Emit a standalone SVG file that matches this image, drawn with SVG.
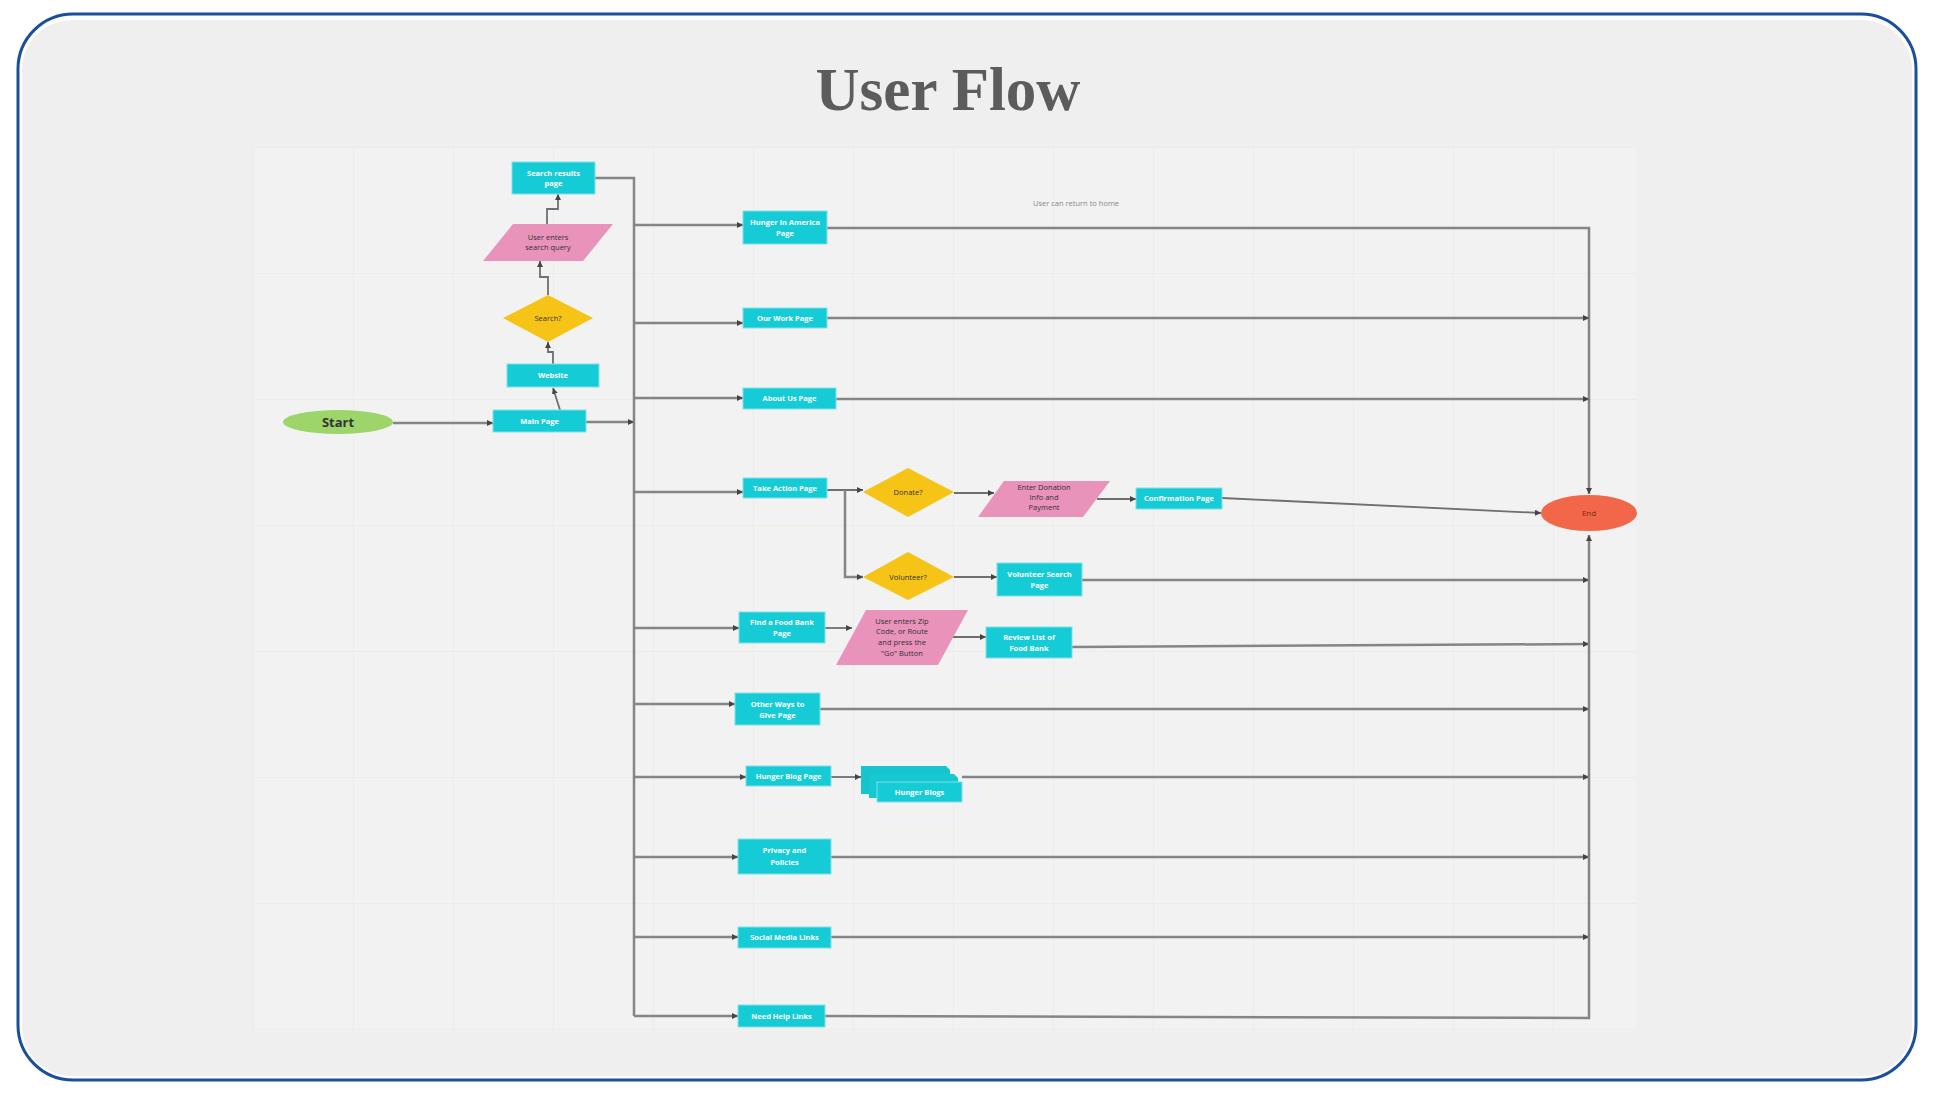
<svg xmlns="http://www.w3.org/2000/svg" width="1936" height="1105" viewBox="0 0 1936 1105">
<defs>
<pattern id="grid" x="253" y="147" width="100" height="126" patternUnits="userSpaceOnUse">
<path d="M0,0 V126 M0,0 H100" fill="none" stroke="#e6e6e6" stroke-width="1"/>
</pattern>
<marker id="arr" viewBox="0 0 6 6" refX="6" refY="3" markerWidth="6" markerHeight="6" markerUnits="userSpaceOnUse" orient="auto">
<path d="M0,0 L6,3 L0,6 Z" fill="#444"/>
</marker>
<style>
.box{fill:#15ccd6;stroke:#7fe0e5;stroke-width:1}
.pink{fill:#e992ba}
.yel{fill:#f6c417}
.wt{font-family:"Open Sans","Liberation Sans",sans-serif;font-size:7.5px;font-weight:bold;fill:#ffffff;text-anchor:middle}
.dt{font-family:"Open Sans","Liberation Sans",sans-serif;font-size:7.5px;fill:#333333;text-anchor:middle}
.ln{fill:none;stroke:#858585;stroke-width:2.5}
.lt{fill:none;stroke:#6f6f6f;stroke-width:1.8}
</style>
</defs>
<rect x="0" y="0" width="1936" height="1105" fill="#ffffff"/>
<rect x="18" y="14" width="1898" height="1066" rx="55" fill="#ffffff" stroke="#1b4f9c" stroke-width="3"/>
<rect x="22" y="20" width="1890" height="1056" rx="50" fill="#efefef"/>
<text x="948" y="110" font-family="'Liberation Serif',serif" font-size="61" font-weight="bold" fill="#5c5c5c" text-anchor="middle">User Flow</text>
<rect x="253" y="147" width="1383" height="884" fill="#f2f2f2"/>
<rect x="253" y="147" width="1383" height="884" fill="url(#grid)"/>
<text x="1076" y="206" font-family="'Open Sans','Liberation Sans',sans-serif" font-size="7.5" fill="#888" text-anchor="middle">User can return to home</text>

<g id="connectors">
<path class="ln" d="M393,423 H493" marker-end="url(#arr)"/>
<path class="ln" d="M586,422 H634" marker-end="url(#arr)"/>
<path class="lt" d="M560,410 L553,388" marker-end="url(#arr)"/>
<path class="lt" d="M553,364 V352 H548 V342" marker-end="url(#arr)"/>
<path class="lt" d="M548,295 V277 H540 V261" marker-end="url(#arr)"/>
<path class="lt" d="M547,224 V209 H558 V194" marker-end="url(#arr)"/>
<path class="ln" d="M595,178 H634 V1016"/>
<path class="ln" d="M634,225 H743" marker-end="url(#arr)"/>
<path class="ln" d="M634,323 H743" marker-end="url(#arr)"/>
<path class="ln" d="M634,398 H743" marker-end="url(#arr)"/>
<path class="ln" d="M634,492 H743" marker-end="url(#arr)"/>
<path class="ln" d="M634,628 H739" marker-end="url(#arr)"/>
<path class="ln" d="M634,704 H735" marker-end="url(#arr)"/>
<path class="ln" d="M634,777 H746" marker-end="url(#arr)"/>
<path class="ln" d="M634,857 H738" marker-end="url(#arr)"/>
<path class="ln" d="M634,937 H738" marker-end="url(#arr)"/>
<path class="ln" d="M634,1016 H738" marker-end="url(#arr)"/>
<path class="ln" d="M827,228 H1589 V494" marker-end="url(#arr)"/>
<path class="ln" d="M827,318 H1589" marker-end="url(#arr)"/>
<path class="ln" d="M836,399 H1589" marker-end="url(#arr)"/>
<path class="lt" d="M827,490 H863" marker-end="url(#arr)"/>
<path class="ln" d="M845,490 V577 H863" marker-end="url(#arr)"/>
<path class="lt" d="M954,493 H994" marker-end="url(#arr)"/>
<path class="lt" d="M1097,499 H1136" marker-end="url(#arr)"/>
<path class="lt" d="M1222,498 L1541,513" marker-end="url(#arr)"/>
<path class="lt" d="M954,577 H997" marker-end="url(#arr)"/>
<path class="ln" d="M1082,580 H1589" marker-end="url(#arr)"/>
<path class="lt" d="M825,628 H852" marker-end="url(#arr)"/>
<path class="lt" d="M952,637 H986" marker-end="url(#arr)"/>
<path class="ln" d="M1072,647 L1589,644" marker-end="url(#arr)"/>
<path class="ln" d="M820,709 H1589" marker-end="url(#arr)"/>
<path class="lt" d="M831,777 H861" marker-end="url(#arr)"/>
<path class="ln" d="M962,777 H1589" marker-end="url(#arr)"/>
<path class="ln" d="M831,857 H1589" marker-end="url(#arr)"/>
<path class="ln" d="M831,937 H1589" marker-end="url(#arr)"/>
<path class="ln" d="M825,1016 L1589,1018 V535" marker-end="url(#arr)"/>
</g>

<g id="start"><ellipse cx="338" cy="422" rx="55" ry="12" fill="#9ed56a"/><text x="338" y="427" font-family="'Open Sans','Liberation Sans',sans-serif" font-size="13" font-weight="bold" fill="#333" text-anchor="middle">Start</text></g>
<g id="main-page"><rect class="box" x="493" y="410" width="93" height="22"/><text class="wt" x="539.5" y="424">Main Page</text></g>
<g id="website"><rect class="box" x="507" y="364" width="92" height="23"/><text class="wt" x="553" y="378">Website</text></g>
<g id="search-decision"><polygon class="yel" points="548,295 593,318 548,342 503,318"/><text class="dt" x="548" y="321">Search?</text></g>
<g id="search-query"><polygon class="pink" points="513,224 613,224 583,261 483,261"/><text class="dt" x="548" y="240">User enters</text><text class="dt" x="548" y="250">search query</text></g>
<g id="search-results"><rect class="box" x="512" y="162" width="83" height="32"/><text class="wt" x="553.5" y="176">Search results</text><text class="wt" x="553.5" y="186">page</text></g>

<g id="hunger-america"><rect class="box" x="743" y="211" width="84" height="33"/><text class="wt" x="785" y="225">Hunger in America</text><text class="wt" x="785" y="236">Page</text></g>
<g id="our-work"><rect class="box" x="743" y="308" width="84" height="20"/><text class="wt" x="785" y="321">Our Work Page</text></g>
<g id="about-us"><rect class="box" x="743" y="388" width="93" height="21"/><text class="wt" x="789.5" y="401">About Us Page</text></g>
<g id="take-action"><rect class="box" x="743" y="478" width="84" height="20"/><text class="wt" x="785" y="491">Take Action Page</text></g>
<g id="donate"><polygon class="yel" points="908,468 954,492 908,517 863,492"/><text class="dt" x="908" y="495">Donate?</text></g>
<g id="donation-info"><polygon class="pink" points="1004,481 1110,481 1083,517 978,517"/><text class="dt" x="1044" y="490">Enter Donation</text><text class="dt" x="1044" y="500">Info and</text><text class="dt" x="1044" y="510">Payment</text></g>
<g id="confirmation"><rect class="box" x="1136" y="488" width="86" height="21"/><text class="wt" x="1179" y="501">Confirmation Page</text></g>
<g id="volunteer"><polygon class="yel" points="908,552 954,577 908,600 863,577"/><text class="dt" x="908" y="580">Volunteer?</text></g>
<g id="volunteer-search"><rect class="box" x="997" y="563" width="85" height="33"/><text class="wt" x="1039.5" y="577">Volunteer Search</text><text class="wt" x="1039.5" y="588">Page</text></g>
<g id="find-food-bank"><rect class="box" x="739" y="612" width="86" height="31"/><text class="wt" x="782" y="625">Find a Food Bank</text><text class="wt" x="782" y="636">Page</text></g>
<g id="zip-input"><polygon class="pink" points="866,610 968,610 938,665 836,665"/><text class="dt" x="902" y="624">User enters Zip</text><text class="dt" x="902" y="634">Code, or Route</text><text class="dt" x="902" y="645">and press the</text><text class="dt" x="902" y="656">"Go" Button</text></g>
<g id="review-list"><rect class="box" x="986" y="627" width="86" height="31"/><text class="wt" x="1029" y="640">Review List of</text><text class="wt" x="1029" y="651">Food Bank</text></g>
<g id="other-ways"><rect class="box" x="735" y="693" width="85" height="32"/><text class="wt" x="777.5" y="707">Other Ways to</text><text class="wt" x="777.5" y="718">Give Page</text></g>
<g id="hunger-blog-page"><rect class="box" x="746" y="766" width="85" height="20"/><text class="wt" x="788.5" y="779">Hunger Blog Page</text></g>
<g id="hunger-blogs"><polygon fill="#15c4cd" points="861,766 946,766 950,770 950,794 861,794"/><polygon fill="#15c8d1" points="869,774 954,774 958,778 958,798 869,798"/><rect class="box" x="877" y="782" width="85" height="20"/><text class="wt" x="919.5" y="795">Hunger Blogs</text></g>
<g id="privacy"><rect class="box" x="738" y="839" width="93" height="35"/><text class="wt" x="784.5" y="853">Privacy and</text><text class="wt" x="784.5" y="865">Policies</text></g>
<g id="social-media"><rect class="box" x="738" y="927" width="93" height="21"/><text class="wt" x="784.5" y="940">Social Media Links</text></g>
<g id="need-help"><rect class="box" x="738" y="1005" width="87" height="22"/><text class="wt" x="781.5" y="1019">Need Help Links</text></g>
<g id="end"><ellipse cx="1589" cy="513" rx="48" ry="18" fill="#f2664a"/><text x="1589" y="516" font-family="'Open Sans','Liberation Sans',sans-serif" font-size="8" fill="#7a2a1a" text-anchor="middle">End</text></g>
</svg>
